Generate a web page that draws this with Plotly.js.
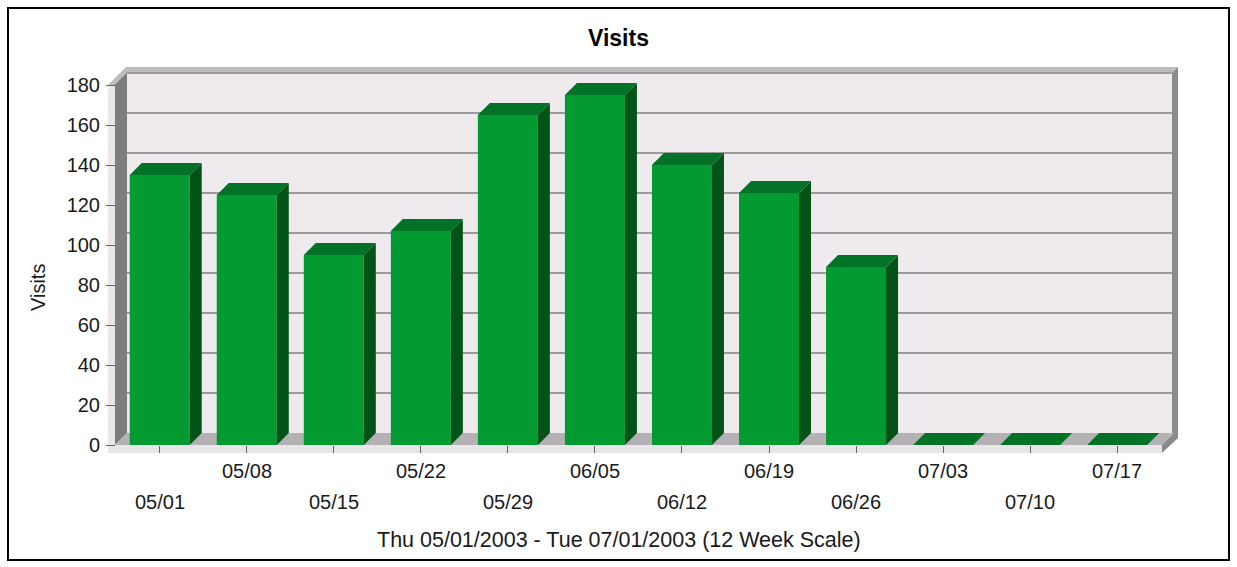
<!DOCTYPE html>
<html>
<head>
<meta charset="utf-8">
<script src="https://cdn.plot.ly/plotly-3.0.1.min.js"></script>
<style>
  html, body { margin: 0; padding: 0; background: #fff; }
  #chart { width: 1237px; height: 567px; }
</style>
</head>
<body>
<div id="chart"></div>
<script>
/* Data */
var weeks = ["05/01", "05/08", "05/15", "05/22", "05/29", "06/05",
  "06/12", "06/19", "06/26", "07/03", "07/10", "07/17"];
var visits = [135, 125, 95, 107, 165, 175, 140, 126, 89, 0, 0, 0];
var yTicks = [0, 20, 40, 60, 80, 100, 120, 140, 160, 180];
var xTitle = "Thu 05/01/2003 - Tue 07/01/2003 (12 Week Scale)";

/* Geometry of the fake 3d box (pixels of the page) */
var L = 106, R = 1180, T = 66, B = 453;
var X0 = 116.2, PXU = 87.04;     // left edge of category 0, pixels per category
var FLOOR = 445;                 // pixel row of y = 0 on the front plane
function dx(px) { return -0.5 + (px - X0) / PXU; }
function dy(px) { return (FLOOR - px) / 2; }
function py(px) { return (B - px) / (B - T); }        // paper y
function pxp(px) { return (px - L) / (R - L); }       // paper x
function path(pts) {
  return 'M' + pts.map(function (p) { return dx(p[0]) + ',' + dy(p[1]); }).join('L') + 'Z';
}

var W = 60 / PXU, DX = 12 / PXU, DY = 6;   // bar width and depth in data units
var font = 'Arial, "Liberation Sans", sans-serif';

/* Bar faces built from the data */
var topX = [], topY = [], sideX = [], sideY = [];
visits.forEach(function (v, i) {
  var a = i - W / 2, b = i + W / 2;
  topX.push(a, b, b + DX, a + DX, a, null);
  topY.push(v, v, v + DY, v + DY, v, null);
  if (v > 0) {
    sideX.push(b, b, b + DX, b + DX, b, null);
    sideY.push(0, v, v + DY, DY, 0, null);
  }
});

var front = {
  type: 'bar',
  x: weeks.map(function (d, i) { return i; }),
  y: visits,
  width: W,
  marker: { color: '#039a32', line: { width: 0 } },
  hoverinfo: 'skip'
};
var tops = {
  type: 'scatter', mode: 'lines', x: topX, y: topY,
  fill: 'toself', fillcolor: '#027226', line: { width: 0, color: '#027226' },
  hoverinfo: 'skip'
};
var sides = {
  type: 'scatter', mode: 'lines', x: sideX, y: sideY,
  fill: 'toself', fillcolor: '#015317', line: { width: 0, color: '#015317' },
  hoverinfo: 'skip'
};

/* Walls and floor */
var shapes = [
  { type: 'path', path: path([[127, 73], [1172, 73], [1172, 433], [127, 433]]), fillcolor: '#eeeaee' },
  { type: 'path', path: path([[108, 85], [126, 67], [1178, 67], [1172, 73], [127, 73], [115, 85]]), fillcolor: '#bdbbbd' },
  { type: 'path', path: path([[108, 85], [115, 85], [115, 453], [108, 453]]), fillcolor: '#e8e6e8' },
  { type: 'path', path: path([[115, 85], [127, 73], [127, 433], [115, 445]]), fillcolor: '#7c7c7c' },
  { type: 'path', path: path([[1172, 73], [1178, 67], [1178, 433], [1172, 433]]), fillcolor: '#8a8a8a' },
  { type: 'path', path: path([[115, 445], [127, 433], [1174, 433], [1162, 445]]), fillcolor: '#b3b1b3' },
  { type: 'path', path: path([[115, 445], [1162, 445], [1162, 453], [115, 453]]), fillcolor: '#e8e6e8' },
  { type: 'path', path: path([[1162, 445], [1174, 433], [1178, 433], [1178, 438], [1162, 453]]), fillcolor: '#8a8a8a' }
];
shapes.forEach(function (s) { s.xref = 'x'; s.yref = 'y'; s.layer = 'below'; s.line = { width: 0 }; });

// grid lines sit on the back wall, one depth step up and right
yTicks.slice(1).forEach(function (v) {
  shapes.push({ type: 'line', xref: 'x', yref: 'y', layer: 'below',
    x0: dx(127), x1: dx(1172), y0: v + DY, y1: v + DY,
    line: { color: '#9c9a9c', width: 2 } });
  shapes.push({ type: 'line', xref: 'x', yref: 'y', layer: 'below',
    x0: dx(115), x1: dx(127), y0: v, y1: v + DY,
    line: { color: '#8c8c8c', width: 1 } });
});

// outer frame
shapes.push({ type: 'rect', xref: 'paper', yref: 'paper', layer: 'above',
  x0: pxp(8), x1: pxp(1229), y0: py(560), y1: py(8),
  line: { color: '#000', width: 2 } });

/* Staggered week labels and axis titles */
var annotations = weeks.map(function (w, i) {
  return { xref: 'x', yref: 'paper', x: i, y: py(i % 2 ? 471 : 502),
    text: w, showarrow: false, xanchor: 'center', yanchor: 'middle',
    font: { family: font, size: 20, color: '#1a1a1a' } };
});
annotations.push({ xref: 'paper', yref: 'paper', x: pxp(619), y: py(540),
  text: xTitle, showarrow: false, xanchor: 'center', yanchor: 'middle',
  font: { family: font, size: 21.5, color: '#1a1a1a' } });
annotations.push({ xref: 'paper', yref: 'paper', x: pxp(38), y: py(288),
  text: 'Visits', textangle: -90, showarrow: false, xanchor: 'center', yanchor: 'middle',
  font: { family: font, size: 20, color: '#1a1a1a' } });

/* Layout */
var layout = {
  width: 1237, height: 567, autosize: false,
  margin: { l: L, r: 1237 - R, t: T, b: 567 - B, pad: 0 },
  paper_bgcolor: '#fff', plot_bgcolor: '#fff',
  showlegend: false,
  title: { text: '<b>Visits</b>', font: { family: font, size: 23, color: '#000' },
    x: 0.5, xref: 'container', xanchor: 'center', y: 1 - 38 / 567, yref: 'container', yanchor: 'middle' },
  xaxis: { range: [dx(L), dx(R)], tickvals: weeks.map(function (d, i) { return i; }),
    showticklabels: false, ticks: 'inside', ticklen: 7, tickcolor: '#666', tickwidth: 1,
    showgrid: false, zeroline: false, showline: false, fixedrange: true },
  yaxis: { range: [dy(B), dy(T)], tickvals: yTicks,
    ticks: 'inside', ticklen: 9, tickcolor: '#666', tickwidth: 1, ticklabelstandoff: 5,
    tickfont: { family: font, size: 20, color: '#1a1a1a' },
    showgrid: false, zeroline: false, showline: false, fixedrange: true },
  shapes: shapes,
  annotations: annotations
};

Plotly.newPlot('chart', [front, sides, tops], layout, { staticPlot: true });
</script>
</body>
</html>
